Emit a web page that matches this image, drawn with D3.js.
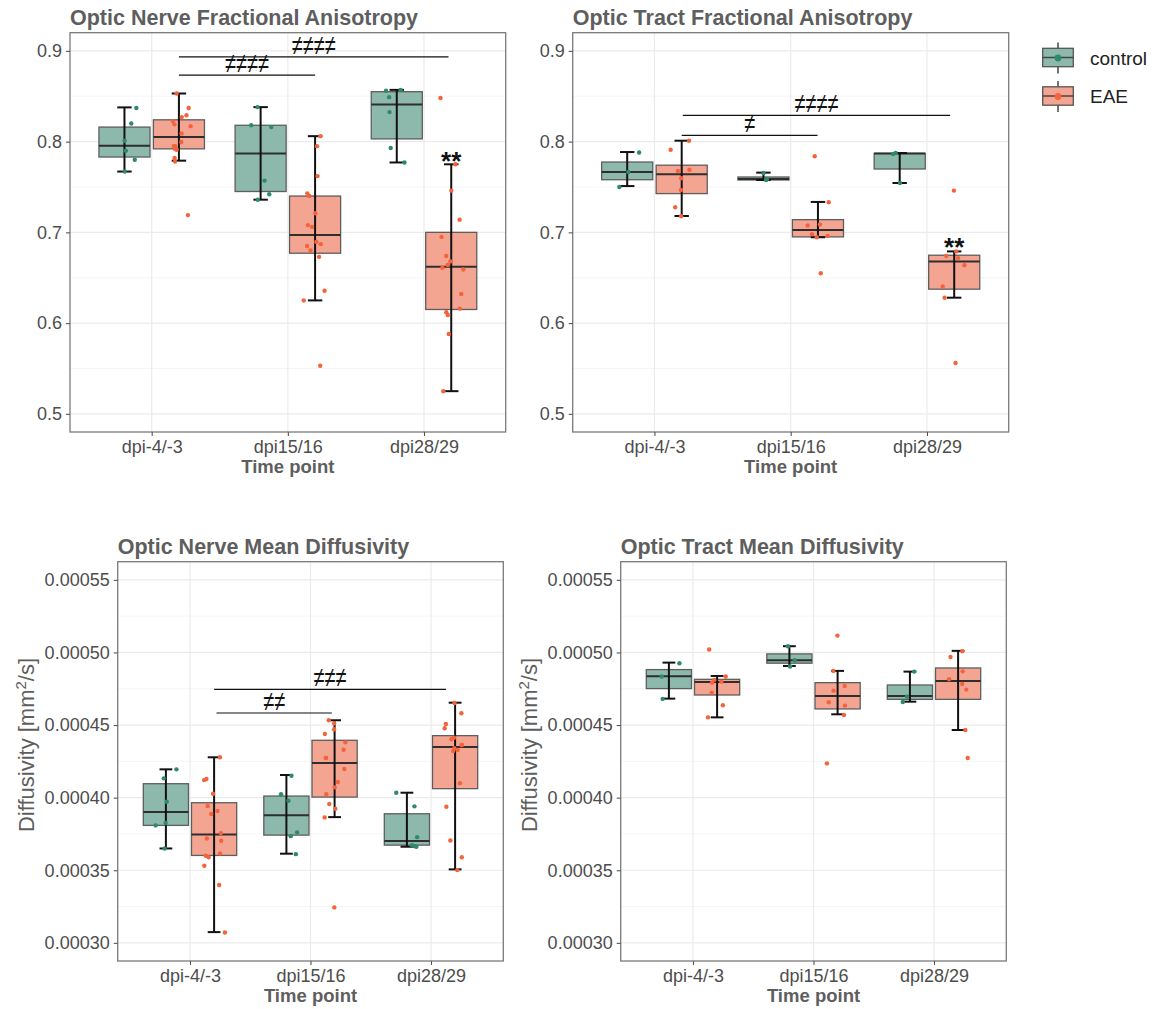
<!DOCTYPE html>
<html>
<head>
<meta charset="utf-8">
<script src="https://cdn.jsdelivr.net/npm/d3@7"></script>
<style>
  body { margin: 0; background: #fff; }
  svg { display: block; }
  text { font-family: "Liberation Sans", Arial, sans-serif; }
</style>
</head>
<body>
<svg id="chart" width="1162" height="1009"></svg>
<script>
// ---- categories and groups ----
const timePoints = ["dpi-4/-3", "dpi15/16", "dpi28/29"];
const groups = ["control", "EAE"];

// ---- tick values ----
const faTicks = [0.5, 0.6, 0.7, 0.8, 0.9];
const mdTicks = [0.00030, 0.00035, 0.00040, 0.00045, 0.00050, 0.00055];

// ---- Optic nerve FA: individual animals per time point ----
const onFaControl = [
  [0.837, 0.820, 0.801, 0.790, 0.780, 0.767],
  [0.838, 0.818, 0.816, 0.757, 0.742, 0.736],
  [0.857, 0.856, 0.849, 0.8325, 0.793, 0.777]
];
const onFaEae = [
  [0.853, 0.837, 0.829, 0.827, 0.8226, 0.819, 0.817, 0.809, 0.7995, 0.795, 0.795, 0.792, 0.791, 0.782, 0.778, 0.719],
  [0.806, 0.795, 0.762, 0.743, 0.740, 0.721, 0.708, 0.706, 0.6895, 0.687, 0.685, 0.680, 0.673, 0.6356, 0.625, 0.553],
  [0.848, 0.775, 0.746, 0.714, 0.695, 0.674, 0.668, 0.664, 0.661, 0.659, 0.632, 0.616, 0.612, 0.609, 0.588, 0.525]
];
// box summaries: [Q1, median, Q3, lower whisker, upper whisker]
const onFaControlBox = [
  [0.783, 0.7955, 0.816, 0.767, 0.8377],
  [0.745, 0.787, 0.818, 0.736, 0.838],
  [0.803, 0.841, 0.855, 0.777, 0.857]
];
const onFaEaeBox = [
  [0.792, 0.805, 0.824, 0.779, 0.853],
  [0.677, 0.697, 0.740, 0.625, 0.806],
  [0.615, 0.662, 0.700, 0.525, 0.775]
];

// ---- Optic tract FA ----
const otFaControl = [
  [0.788, 0.7665, 0.750],
  [0.7654, 0.7585, 0.7577],
  [0.7874, 0.7863, 0.7544]
];
const otFaEae = [
  [0.801, 0.791, 0.769, 0.7676, 0.7596, 0.7467, 0.7277, 0.7177],
  [0.7838, 0.7331, 0.7086, 0.7075, 0.698, 0.6961, 0.6946, 0.655],
  [0.746, 0.679, 0.674, 0.6716, 0.6638, 0.6404, 0.628, 0.556]
];
const otFaControlBox = [
  [0.758, 0.7665, 0.7775, 0.751, 0.7885],
  [0.7577, 0.7588, 0.761, 0.7577, 0.7658],
  [0.7698, 0.787, 0.787, 0.7544, 0.7874]
];
const otFaEaeBox = [
  [0.7427, 0.764, 0.774, 0.718, 0.801],
  [0.695, 0.7027, 0.714, 0.6946, 0.7335],
  [0.6374, 0.668, 0.6748, 0.628, 0.679]
];

// ---- Optic nerve MD (mm^2/s) ----
const onMdControl = [
  [41.95e-5, 41.33e-5, 39.72e-5, 38.25e-5, 38.09e-5, 36.5e-5],
  [41.51e-5, 40.23e-5, 39.79e-5, 37.61e-5, 37.35e-5, 36.11e-5],
  [40.34e-5, 39.4e-5, 37.28e-5, 36.73e-5, 36.66e-5, 36.62e-5]
];
const onMdEae = [
  [42.78e-5, 41.28e-5, 41.21e-5, 40.27e-5, 39.42e-5, 39.08e-5, 38.87e-5, 37.56e-5, 37.19e-5, 37.03e-5, 36.16e-5, 36.0e-5, 35.9e-5, 35.31e-5, 33.98e-5, 30.71e-5],
  [45.33e-5, 45.12e-5, 44.71e-5, 44.38e-5, 43.81e-5, 43.3e-5, 42.73e-5, 42.73e-5, 41.97e-5, 41.08e-5, 40.71e-5, 40.23e-5, 39.56e-5, 39.24e-5, 38.64e-5, 32.44e-5],
  [46.52e-5, 45.81e-5, 45.07e-5, 44.78e-5, 44.13e-5, 44.02e-5, 43.63e-5, 43.63e-5, 43.4e-5, 43.28e-5, 43.21e-5, 41.0e-5, 39.37e-5, 37.05e-5, 35.9e-5, 35.01e-5]
];
const onMdControlBox = [
  [38.09e-5, 39.01e-5, 40.96e-5, 36.5e-5, 41.95e-5],
  [37.42e-5, 38.78e-5, 40.11e-5, 36.14e-5, 41.56e-5],
  [36.73e-5, 37.01e-5, 38.89e-5, 36.62e-5, 40.34e-5]
];
const onMdEaeBox = [
  [36.02e-5, 37.47e-5, 39.65e-5, 30.74e-5, 42.78e-5],
  [40.04e-5, 42.39e-5, 43.95e-5, 38.66e-5, 45.33e-5],
  [40.62e-5, 43.49e-5, 44.27e-5, 35.06e-5, 46.54e-5]
];

// ---- Optic tract MD (mm^2/s) ----
const otMdControl = [
  [49.26e-5, 48.34e-5, 46.8e-5],
  [50.43e-5, 49.46e-5, 49.03e-5],
  [48.68e-5, 46.96e-5, 46.59e-5]
];
const otMdEae = [
  [50.2e-5, 48.34e-5, 48.11e-5, 47.99e-5, 47.92e-5, 47.23e-5, 46.36e-5, 45.53e-5],
  [51.16e-5, 48.73e-5, 47.69e-5, 47.37e-5, 46.57e-5, 46.34e-5, 45.69e-5, 42.36e-5],
  [50.08e-5, 49.69e-5, 48.7e-5, 48.15e-5, 47.83e-5, 47.44e-5, 44.66e-5, 42.73e-5]
];
const otMdControlBox = [
  [47.51e-5, 48.36e-5, 48.82e-5, 46.82e-5, 49.3e-5],
  [49.26e-5, 49.46e-5, 49.9e-5, 49.07e-5, 50.43e-5],
  [46.77e-5, 47.0e-5, 47.76e-5, 46.61e-5, 48.68e-5]
];
const otMdEaeBox = [
  [47.07e-5, 47.97e-5, 48.15e-5, 45.53e-5, 48.38e-5],
  [46.11e-5, 47.0e-5, 47.92e-5, 45.74e-5, 48.73e-5],
  [46.77e-5, 48.04e-5, 48.93e-5, 44.66e-5, 50.11e-5]
];

// ---- significance brackets (x in time-point units, 1 = first) ----
const onFaBrackets = [
  { from: 1.2, to: 2.2, y: 0.8732, label: "≠≠≠≠" },
  { from: 1.2, to: 3.18, y: 0.8934, label: "≠≠≠≠" }
];
const otFaBrackets = [
  { from: 1.2, to: 2.197, y: 0.8068, label: "≠" },
  { from: 1.208, to: 3.17, y: 0.8288, label: "≠≠≠≠" }
];
const onMdBrackets = [
  { from: 1.22, to: 2.177, y: 45.83e-5, label: "≠≠" },
  { from: 1.2, to: 3.124, y: 47.46e-5, label: "≠≠≠" }
];
// group-vs-control stars: time-point index, value of the label centre
const onFaStars = [{ t: 2, y: 0.785, label: "**" }];
const otFaStars = [{ t: 2, y: 0.6905, label: "**" }];

// ---- styling ----
const pointColor = { control: "#2f8a6b", EAE: "#f4633c" };
const boxFill = { control: "#8db9ac", EAE: "#f4a592" };
const dodge = { control: -0.2, EAE: 0.2 };

const panels = [
  { title: "Optic Nerve Fractional Anisotropy", left: 70, right: 505.7, top: 32.7, bottom: 432,
    domain: [0.48, 0.92], ticks: faTicks, fmt: d3.format(".1f"),
    points: { control: onFaControl, EAE: onFaEae }, boxes: { control: onFaControlBox, EAE: onFaEaeBox },
    brackets: onFaBrackets, stars: onFaStars, yTitle: false, seed: 0.11 },
  { title: "Optic Tract Fractional Anisotropy", left: 572.7, right: 1008.7, top: 32.7, bottom: 432,
    domain: [0.48, 0.92], ticks: faTicks, fmt: d3.format(".1f"),
    points: { control: otFaControl, EAE: otFaEae }, boxes: { control: otFaControlBox, EAE: otFaEaeBox },
    brackets: otFaBrackets, stars: otFaStars, yTitle: false, seed: 0.27 },
  { title: "Optic Nerve Mean Diffusivity", left: 117.7, right: 503.3, top: 561.7, bottom: 961,
    domain: [0.0002875, 0.0005625], ticks: mdTicks, fmt: d3.format(".5f"),
    points: { control: onMdControl, EAE: onMdEae }, boxes: { control: onMdControlBox, EAE: onMdEaeBox },
    brackets: onMdBrackets, stars: [], yTitle: true, seed: 0.43 },
  { title: "Optic Tract Mean Diffusivity", left: 620.7, right: 1006.3, top: 561.7, bottom: 961,
    domain: [0.0002875, 0.0005625], ticks: mdTicks, fmt: d3.format(".5f"),
    points: { control: otMdControl, EAE: otMdEae }, boxes: { control: otMdControlBox, EAE: otMdEaeBox },
    brackets: [], stars: [], yTitle: true, seed: 0.59 }
];

const svg = d3.select("#chart");

panels.forEach(p => {
  const g = svg.append("g");
  const x = d3.scalePoint().domain(timePoints).range([p.left, p.right]).padding(0.6);
  const step = x.step();
  const xNum = d3.scaleLinear().domain([0.4, 3.6]).range([p.left, p.right]);
  const y = d3.scaleLinear().domain(p.domain).range([p.bottom, p.top]);

  // minor + major grid
  const minor = d3.pairs(p.ticks).map(([a, b]) => (a + b) / 2);
  g.selectAll(".minor").data(minor).join("line")
    .attr("x1", p.left).attr("x2", p.right)
    .attr("y1", d => y(d)).attr("y2", d => y(d))
    .attr("stroke", "#f2f2f2").attr("stroke-width", 0.8);
  g.selectAll(".majorY").data(p.ticks).join("line")
    .attr("x1", p.left).attr("x2", p.right)
    .attr("y1", d => y(d)).attr("y2", d => y(d))
    .attr("stroke", "#ebebeb").attr("stroke-width", 1.2);
  g.selectAll(".majorX").data(timePoints).join("line")
    .attr("x1", d => x(d)).attr("x2", d => x(d))
    .attr("y1", p.top).attr("y2", p.bottom)
    .attr("stroke", "#ebebeb").attr("stroke-width", 1.2);

  const rand = d3.randomUniform.source(d3.randomLcg(p.seed))(-0.09, 0.09);

  groups.forEach(grp => {
    p.boxes[grp].forEach((b, i) => {
      const [q1, med, q3, lo, hi] = b;
      const cx = x(timePoints[i]) + dodge[grp] * step;
      const hw = 0.1875 * step;
      const cw = 0.053 * step;
      const bg = g.append("g");
      bg.append("rect")
        .attr("x", cx - hw).attr("width", 2 * hw)
        .attr("y", y(q3)).attr("height", Math.max(0.5, y(q1) - y(q3)))
        .attr("fill", boxFill[grp]).attr("stroke", "#5e5e5e").attr("stroke-width", 1.3);
      bg.append("line")
        .attr("x1", cx - hw).attr("x2", cx + hw)
        .attr("y1", y(med)).attr("y2", y(med))
        .attr("stroke", "#2e2e2e").attr("stroke-width", 2);
      // whisker error bar
      bg.append("line")
        .attr("x1", cx).attr("x2", cx).attr("y1", y(lo)).attr("y2", y(hi))
        .attr("stroke", "#111").attr("stroke-width", 2);
      [lo, hi].forEach(v => bg.append("line")
        .attr("x1", cx - cw).attr("x2", cx + cw).attr("y1", y(v)).attr("y2", y(v))
        .attr("stroke", "#111").attr("stroke-width", 2));
    });
  });

  // jittered individual values
  groups.forEach(grp => {
    p.points[grp].forEach((vals, i) => {
      const cx = x(timePoints[i]) + dodge[grp] * step;
      g.append("g").selectAll("circle").data(vals).join("circle")
        .attr("cx", () => cx + rand() * step)
        .attr("cy", d => y(d))
        .attr("r", 2.2)
        .attr("fill", pointColor[grp]);
    });
  });

  // brackets
  p.brackets.forEach(br => {
    g.append("line")
      .attr("x1", xNum(br.from)).attr("x2", xNum(br.to))
      .attr("y1", y(br.y)).attr("y2", y(br.y))
      .attr("stroke", "#111").attr("stroke-width", 1.2);
    g.append("text")
      .attr("transform", `translate(${(xNum(br.from) + xNum(br.to)) / 2},${y(br.y) - 2}) scale(1,1.4)`)
      .attr("text-anchor", "middle")
      .attr("font-size", 20).attr("fill", "#111")
      .text(br.label);
  });

  p.stars.forEach(s => {
    g.append("text")
      .attr("x", x(timePoints[s.t]) + dodge.EAE * step)
      .attr("y", y(s.y) + 15)
      .attr("text-anchor", "middle")
      .attr("font-size", 26).attr("font-weight", "bold").attr("fill", "#111")
      .text(s.label);
  });

  // panel border
  g.append("rect")
    .attr("x", p.left).attr("y", p.top)
    .attr("width", p.right - p.left).attr("height", p.bottom - p.top)
    .attr("fill", "none").attr("stroke", "#7a7a7a").attr("stroke-width", 1.3);

  // axes
  const yAxis = g.append("g").attr("transform", `translate(${p.left},0)`)
    .call(d3.axisLeft(y).tickValues(p.ticks).tickFormat(p.fmt).tickSize(4).tickPadding(4));
  const xAxis = g.append("g").attr("transform", `translate(0,${p.bottom})`)
    .call(d3.axisBottom(x).tickSize(4).tickPadding(4));
  [yAxis, xAxis].forEach(ax => {
    ax.select(".domain").remove();
    ax.selectAll(".tick line").attr("stroke", "#555").attr("stroke-width", 1.1);
    ax.selectAll(".tick text").attr("fill", "#4d4d4d").attr("font-size", 18)
      .attr("font-family", "Liberation Sans, Arial, sans-serif");
  });

  // titles
  g.append("text")
    .attr("x", p.left).attr("y", p.top - 7.7)
    .attr("font-size", 21.5).attr("font-weight", "bold").attr("fill", "#5e5e5e")
    .text(p.title);
  g.append("text")
    .attr("x", (p.left + p.right) / 2).attr("y", p.bottom + 40.7)
    .attr("text-anchor", "middle")
    .attr("font-size", 18.5).attr("font-weight", "bold").attr("fill", "#5e5e5e")
    .text("Time point");

  if (p.yTitle) {
    const t = g.append("text")
      .attr("transform", `translate(${p.left - 84},745) rotate(-90)`)
      .attr("text-anchor", "middle")
      .attr("font-size", 22).attr("fill", "#5e5e5e");
    t.append("tspan").text("Diffusivity [mm");
    t.append("tspan").attr("dy", -8).attr("font-size", 15).text("2");
    t.append("tspan").attr("dy", 8).text("/s]");
  }
});

// legend
const legend = svg.append("g");
const legendRows = [
  { grp: "control", cy: 57.5 },
  { grp: "EAE", cy: 96 }
];
legendRows.forEach(r => {
  const kx = 1058;
  legend.append("line")
    .attr("x1", kx).attr("x2", kx).attr("y1", r.cy - 15).attr("y2", r.cy + 16)
    .attr("stroke", "#444").attr("stroke-width", 1.5);
  legend.append("rect")
    .attr("x", kx - 15.3).attr("y", r.cy - 9.2).attr("width", 30.6).attr("height", 18.4)
    .attr("fill", boxFill[r.grp]).attr("stroke", "#555").attr("stroke-width", 1.3);
  legend.append("line")
    .attr("x1", kx - 15.3).attr("x2", kx + 15.3).attr("y1", r.cy).attr("y2", r.cy)
    .attr("stroke", "#444").attr("stroke-width", 1.5);
  legend.append("circle")
    .attr("cx", kx).attr("cy", r.cy + 0.5).attr("r", 3.4)
    .attr("fill", pointColor[r.grp]);
  legend.append("text")
    .attr("x", 1090).attr("y", r.cy + 7)
    .attr("font-size", 19).attr("fill", "#222")
    .text(r.grp);
});
</script>
</body>
</html>
